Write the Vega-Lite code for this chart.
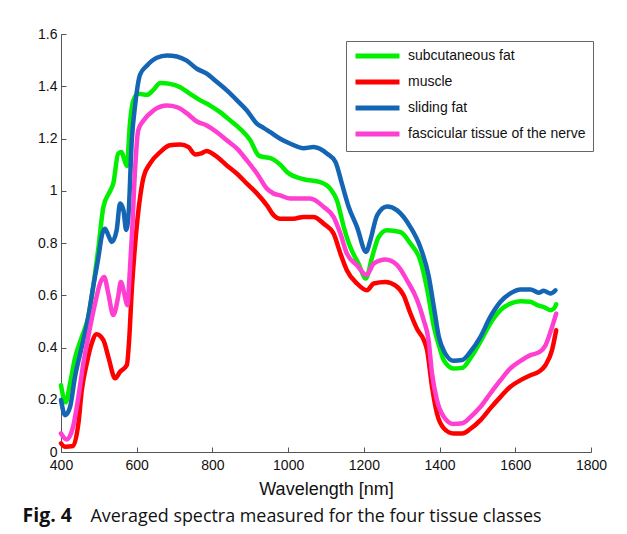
{
  "$schema": "https://vega.github.io/schema/vega-lite/v6.json",
  "width": 530,
  "height": 418,
  "autosize": {"type": "none"},
  "padding": {"left": 61, "top": 34, "right": 36, "bottom": 82},
  "background": "white",
  "config": {
    "view": {"stroke": null},
    "font": "Liberation Sans"
  },
  "resolve": {"scale": {"x": "independent"}, "axis": {"x": "independent"}},
  "layer": [
    {
      "data": {
        "values": [
          {"nm": 400, "v": 0.256, "tissue": "subcutaneous fat"},
          {"nm": 412, "v": 0.19, "tissue": "subcutaneous fat"},
          {"nm": 424, "v": 0.263, "tissue": "subcutaneous fat"},
          {"nm": 437, "v": 0.36, "tissue": "subcutaneous fat"},
          {"nm": 455, "v": 0.44, "tissue": "subcutaneous fat"},
          {"nm": 472, "v": 0.517, "tissue": "subcutaneous fat"},
          {"nm": 485, "v": 0.632, "tissue": "subcutaneous fat"},
          {"nm": 499, "v": 0.785, "tissue": "subcutaneous fat"},
          {"nm": 512, "v": 0.938, "tissue": "subcutaneous fat"},
          {"nm": 530, "v": 1.0, "tissue": "subcutaneous fat"},
          {"nm": 538, "v": 1.027, "tissue": "subcutaneous fat"},
          {"nm": 551, "v": 1.142, "tissue": "subcutaneous fat"},
          {"nm": 560, "v": 1.148, "tissue": "subcutaneous fat"},
          {"nm": 567, "v": 1.12, "tissue": "subcutaneous fat"},
          {"nm": 574, "v": 1.095, "tissue": "subcutaneous fat"},
          {"nm": 582, "v": 1.256, "tissue": "subcutaneous fat"},
          {"nm": 591, "v": 1.345, "tissue": "subcutaneous fat"},
          {"nm": 604, "v": 1.371, "tissue": "subcutaneous fat"},
          {"nm": 627, "v": 1.367, "tissue": "subcutaneous fat"},
          {"nm": 644, "v": 1.386, "tissue": "subcutaneous fat"},
          {"nm": 662, "v": 1.412, "tissue": "subcutaneous fat"},
          {"nm": 688, "v": 1.409, "tissue": "subcutaneous fat"},
          {"nm": 715, "v": 1.396, "tissue": "subcutaneous fat"},
          {"nm": 741, "v": 1.371, "tissue": "subcutaneous fat"},
          {"nm": 768, "v": 1.346, "tissue": "subcutaneous fat"},
          {"nm": 794, "v": 1.326, "tissue": "subcutaneous fat"},
          {"nm": 820, "v": 1.301, "tissue": "subcutaneous fat"},
          {"nm": 847, "v": 1.269, "tissue": "subcutaneous fat"},
          {"nm": 873, "v": 1.237, "tissue": "subcutaneous fat"},
          {"nm": 900, "v": 1.193, "tissue": "subcutaneous fat"},
          {"nm": 922, "v": 1.135, "tissue": "subcutaneous fat"},
          {"nm": 935, "v": 1.129, "tissue": "subcutaneous fat"},
          {"nm": 953, "v": 1.125, "tissue": "subcutaneous fat"},
          {"nm": 979, "v": 1.1, "tissue": "subcutaneous fat"},
          {"nm": 997, "v": 1.072, "tissue": "subcutaneous fat"},
          {"nm": 1041, "v": 1.044, "tissue": "subcutaneous fat"},
          {"nm": 1085, "v": 1.033, "tissue": "subcutaneous fat"},
          {"nm": 1111, "v": 1.008, "tissue": "subcutaneous fat"},
          {"nm": 1129, "v": 0.963, "tissue": "subcutaneous fat"},
          {"nm": 1147, "v": 0.861, "tissue": "subcutaneous fat"},
          {"nm": 1164, "v": 0.785, "tissue": "subcutaneous fat"},
          {"nm": 1186, "v": 0.721, "tissue": "subcutaneous fat"},
          {"nm": 1205, "v": 0.664, "tissue": "subcutaneous fat"},
          {"nm": 1222, "v": 0.747, "tissue": "subcutaneous fat"},
          {"nm": 1239, "v": 0.823, "tissue": "subcutaneous fat"},
          {"nm": 1261, "v": 0.849, "tissue": "subcutaneous fat"},
          {"nm": 1296, "v": 0.842, "tissue": "subcutaneous fat"},
          {"nm": 1323, "v": 0.798, "tissue": "subcutaneous fat"},
          {"nm": 1349, "v": 0.734, "tissue": "subcutaneous fat"},
          {"nm": 1367, "v": 0.625, "tissue": "subcutaneous fat"},
          {"nm": 1385, "v": 0.479, "tissue": "subcutaneous fat"},
          {"nm": 1400, "v": 0.4, "tissue": "subcutaneous fat"},
          {"nm": 1411, "v": 0.352, "tissue": "subcutaneous fat"},
          {"nm": 1437, "v": 0.32, "tissue": "subcutaneous fat"},
          {"nm": 1460, "v": 0.322, "tissue": "subcutaneous fat"},
          {"nm": 1481, "v": 0.358, "tissue": "subcutaneous fat"},
          {"nm": 1508, "v": 0.422, "tissue": "subcutaneous fat"},
          {"nm": 1534, "v": 0.492, "tissue": "subcutaneous fat"},
          {"nm": 1561, "v": 0.543, "tissue": "subcutaneous fat"},
          {"nm": 1587, "v": 0.568, "tissue": "subcutaneous fat"},
          {"nm": 1614, "v": 0.577, "tissue": "subcutaneous fat"},
          {"nm": 1640, "v": 0.575, "tissue": "subcutaneous fat"},
          {"nm": 1658, "v": 0.562, "tissue": "subcutaneous fat"},
          {"nm": 1675, "v": 0.555, "tissue": "subcutaneous fat"},
          {"nm": 1693, "v": 0.543, "tissue": "subcutaneous fat"},
          {"nm": 1702, "v": 0.549, "tissue": "subcutaneous fat"},
          {"nm": 1708, "v": 0.565, "tissue": "subcutaneous fat"},

          {"nm": 400, "v": 0.033, "tissue": "muscle"},
          {"nm": 411, "v": 0.02, "tissue": "muscle"},
          {"nm": 432, "v": 0.023, "tissue": "muscle"},
          {"nm": 446, "v": 0.11, "tissue": "muscle"},
          {"nm": 455, "v": 0.237, "tissue": "muscle"},
          {"nm": 468, "v": 0.339, "tissue": "muscle"},
          {"nm": 481, "v": 0.415, "tissue": "muscle"},
          {"nm": 494, "v": 0.451, "tissue": "muscle"},
          {"nm": 512, "v": 0.428, "tissue": "muscle"},
          {"nm": 525, "v": 0.364, "tissue": "muscle"},
          {"nm": 543, "v": 0.282, "tissue": "muscle"},
          {"nm": 556, "v": 0.307, "tissue": "muscle"},
          {"nm": 574, "v": 0.333, "tissue": "muscle"},
          {"nm": 580, "v": 0.428, "tissue": "muscle"},
          {"nm": 587, "v": 0.62, "tissue": "muscle"},
          {"nm": 596, "v": 0.798, "tissue": "muscle"},
          {"nm": 609, "v": 0.976, "tissue": "muscle"},
          {"nm": 618, "v": 1.052, "tissue": "muscle"},
          {"nm": 635, "v": 1.104, "tissue": "muscle"},
          {"nm": 662, "v": 1.148, "tissue": "muscle"},
          {"nm": 688, "v": 1.174, "tissue": "muscle"},
          {"nm": 715, "v": 1.177, "tissue": "muscle"},
          {"nm": 737, "v": 1.167, "tissue": "muscle"},
          {"nm": 754, "v": 1.139, "tissue": "muscle"},
          {"nm": 768, "v": 1.142, "tissue": "muscle"},
          {"nm": 785, "v": 1.152, "tissue": "muscle"},
          {"nm": 807, "v": 1.135, "tissue": "muscle"},
          {"nm": 838, "v": 1.097, "tissue": "muscle"},
          {"nm": 865, "v": 1.065, "tissue": "muscle"},
          {"nm": 891, "v": 1.027, "tissue": "muscle"},
          {"nm": 918, "v": 0.989, "tissue": "muscle"},
          {"nm": 944, "v": 0.944, "tissue": "muscle"},
          {"nm": 962, "v": 0.906, "tissue": "muscle"},
          {"nm": 979, "v": 0.893, "tissue": "muscle"},
          {"nm": 1014, "v": 0.893, "tissue": "muscle"},
          {"nm": 1041, "v": 0.9, "tissue": "muscle"},
          {"nm": 1067, "v": 0.9, "tissue": "muscle"},
          {"nm": 1094, "v": 0.874, "tissue": "muscle"},
          {"nm": 1120, "v": 0.836, "tissue": "muscle"},
          {"nm": 1138, "v": 0.76, "tissue": "muscle"},
          {"nm": 1155, "v": 0.696, "tissue": "muscle"},
          {"nm": 1182, "v": 0.645, "tissue": "muscle"},
          {"nm": 1208, "v": 0.619, "tissue": "muscle"},
          {"nm": 1226, "v": 0.645, "tissue": "muscle"},
          {"nm": 1257, "v": 0.651, "tissue": "muscle"},
          {"nm": 1283, "v": 0.638, "tissue": "muscle"},
          {"nm": 1305, "v": 0.6, "tissue": "muscle"},
          {"nm": 1323, "v": 0.53, "tissue": "muscle"},
          {"nm": 1341, "v": 0.47, "tissue": "muscle"},
          {"nm": 1358, "v": 0.43, "tissue": "muscle"},
          {"nm": 1367, "v": 0.39, "tissue": "muscle"},
          {"nm": 1380, "v": 0.25, "tissue": "muscle"},
          {"nm": 1393, "v": 0.148, "tissue": "muscle"},
          {"nm": 1411, "v": 0.091, "tissue": "muscle"},
          {"nm": 1437, "v": 0.071, "tissue": "muscle"},
          {"nm": 1460, "v": 0.071, "tissue": "muscle"},
          {"nm": 1481, "v": 0.088, "tissue": "muscle"},
          {"nm": 1508, "v": 0.122, "tissue": "muscle"},
          {"nm": 1534, "v": 0.167, "tissue": "muscle"},
          {"nm": 1561, "v": 0.211, "tissue": "muscle"},
          {"nm": 1587, "v": 0.25, "tissue": "muscle"},
          {"nm": 1614, "v": 0.275, "tissue": "muscle"},
          {"nm": 1640, "v": 0.294, "tissue": "muscle"},
          {"nm": 1662, "v": 0.307, "tissue": "muscle"},
          {"nm": 1680, "v": 0.333, "tissue": "muscle"},
          {"nm": 1697, "v": 0.39, "tissue": "muscle"},
          {"nm": 1708, "v": 0.466, "tissue": "muscle"},

          {"nm": 400, "v": 0.199, "tissue": "sliding fat"},
          {"nm": 411, "v": 0.141, "tissue": "sliding fat"},
          {"nm": 424, "v": 0.173, "tissue": "sliding fat"},
          {"nm": 437, "v": 0.288, "tissue": "sliding fat"},
          {"nm": 455, "v": 0.403, "tissue": "sliding fat"},
          {"nm": 472, "v": 0.517, "tissue": "sliding fat"},
          {"nm": 485, "v": 0.632, "tissue": "sliding fat"},
          {"nm": 499, "v": 0.747, "tissue": "sliding fat"},
          {"nm": 508, "v": 0.83, "tissue": "sliding fat"},
          {"nm": 516, "v": 0.855, "tissue": "sliding fat"},
          {"nm": 525, "v": 0.83, "tissue": "sliding fat"},
          {"nm": 534, "v": 0.804, "tissue": "sliding fat"},
          {"nm": 547, "v": 0.849, "tissue": "sliding fat"},
          {"nm": 556, "v": 0.951, "tissue": "sliding fat"},
          {"nm": 565, "v": 0.925, "tissue": "sliding fat"},
          {"nm": 572, "v": 0.85, "tissue": "sliding fat"},
          {"nm": 578, "v": 0.9, "tissue": "sliding fat"},
          {"nm": 587, "v": 1.193, "tissue": "sliding fat"},
          {"nm": 596, "v": 1.33, "tissue": "sliding fat"},
          {"nm": 609, "v": 1.445, "tissue": "sliding fat"},
          {"nm": 627, "v": 1.479, "tissue": "sliding fat"},
          {"nm": 653, "v": 1.509, "tissue": "sliding fat"},
          {"nm": 680, "v": 1.518, "tissue": "sliding fat"},
          {"nm": 706, "v": 1.514, "tissue": "sliding fat"},
          {"nm": 732, "v": 1.498, "tissue": "sliding fat"},
          {"nm": 759, "v": 1.467, "tissue": "sliding fat"},
          {"nm": 785, "v": 1.448, "tissue": "sliding fat"},
          {"nm": 812, "v": 1.416, "tissue": "sliding fat"},
          {"nm": 838, "v": 1.384, "tissue": "sliding fat"},
          {"nm": 865, "v": 1.346, "tissue": "sliding fat"},
          {"nm": 891, "v": 1.307, "tissue": "sliding fat"},
          {"nm": 918, "v": 1.256, "tissue": "sliding fat"},
          {"nm": 935, "v": 1.241, "tissue": "sliding fat"},
          {"nm": 953, "v": 1.224, "tissue": "sliding fat"},
          {"nm": 979, "v": 1.199, "tissue": "sliding fat"},
          {"nm": 1006, "v": 1.18, "tissue": "sliding fat"},
          {"nm": 1041, "v": 1.163, "tissue": "sliding fat"},
          {"nm": 1067, "v": 1.167, "tissue": "sliding fat"},
          {"nm": 1103, "v": 1.142, "tissue": "sliding fat"},
          {"nm": 1125, "v": 1.11, "tissue": "sliding fat"},
          {"nm": 1142, "v": 1.027, "tissue": "sliding fat"},
          {"nm": 1160, "v": 0.938, "tissue": "sliding fat"},
          {"nm": 1182, "v": 0.861, "tissue": "sliding fat"},
          {"nm": 1206, "v": 0.766, "tissue": "sliding fat"},
          {"nm": 1217, "v": 0.81, "tissue": "sliding fat"},
          {"nm": 1235, "v": 0.906, "tissue": "sliding fat"},
          {"nm": 1261, "v": 0.94, "tissue": "sliding fat"},
          {"nm": 1288, "v": 0.925, "tissue": "sliding fat"},
          {"nm": 1323, "v": 0.861, "tissue": "sliding fat"},
          {"nm": 1349, "v": 0.785, "tissue": "sliding fat"},
          {"nm": 1371, "v": 0.675, "tissue": "sliding fat"},
          {"nm": 1385, "v": 0.555, "tissue": "sliding fat"},
          {"nm": 1398, "v": 0.441, "tissue": "sliding fat"},
          {"nm": 1415, "v": 0.377, "tissue": "sliding fat"},
          {"nm": 1437, "v": 0.349, "tissue": "sliding fat"},
          {"nm": 1460, "v": 0.352, "tissue": "sliding fat"},
          {"nm": 1481, "v": 0.383, "tissue": "sliding fat"},
          {"nm": 1508, "v": 0.441, "tissue": "sliding fat"},
          {"nm": 1534, "v": 0.517, "tissue": "sliding fat"},
          {"nm": 1561, "v": 0.575, "tissue": "sliding fat"},
          {"nm": 1587, "v": 0.607, "tissue": "sliding fat"},
          {"nm": 1614, "v": 0.622, "tissue": "sliding fat"},
          {"nm": 1640, "v": 0.622, "tissue": "sliding fat"},
          {"nm": 1662, "v": 0.61, "tissue": "sliding fat"},
          {"nm": 1675, "v": 0.617, "tissue": "sliding fat"},
          {"nm": 1693, "v": 0.607, "tissue": "sliding fat"},
          {"nm": 1706, "v": 0.619, "tissue": "sliding fat"},

          {"nm": 400, "v": 0.071, "tissue": "fascicular tissue of the nerve"},
          {"nm": 415, "v": 0.048, "tissue": "fascicular tissue of the nerve"},
          {"nm": 432, "v": 0.097, "tissue": "fascicular tissue of the nerve"},
          {"nm": 446, "v": 0.211, "tissue": "fascicular tissue of the nerve"},
          {"nm": 459, "v": 0.339, "tissue": "fascicular tissue of the nerve"},
          {"nm": 472, "v": 0.441, "tissue": "fascicular tissue of the nerve"},
          {"nm": 490, "v": 0.568, "tissue": "fascicular tissue of the nerve"},
          {"nm": 503, "v": 0.645, "tissue": "fascicular tissue of the nerve"},
          {"nm": 514, "v": 0.67, "tissue": "fascicular tissue of the nerve"},
          {"nm": 525, "v": 0.607, "tissue": "fascicular tissue of the nerve"},
          {"nm": 538, "v": 0.524, "tissue": "fascicular tissue of the nerve"},
          {"nm": 551, "v": 0.594, "tissue": "fascicular tissue of the nerve"},
          {"nm": 558, "v": 0.651, "tissue": "fascicular tissue of the nerve"},
          {"nm": 569, "v": 0.594, "tissue": "fascicular tissue of the nerve"},
          {"nm": 575, "v": 0.562, "tissue": "fascicular tissue of the nerve"},
          {"nm": 582, "v": 0.696, "tissue": "fascicular tissue of the nerve"},
          {"nm": 588, "v": 0.849, "tissue": "fascicular tissue of the nerve"},
          {"nm": 596, "v": 1.09, "tissue": "fascicular tissue of the nerve"},
          {"nm": 604, "v": 1.231, "tissue": "fascicular tissue of the nerve"},
          {"nm": 618, "v": 1.269, "tissue": "fascicular tissue of the nerve"},
          {"nm": 644, "v": 1.307, "tissue": "fascicular tissue of the nerve"},
          {"nm": 680, "v": 1.326, "tissue": "fascicular tissue of the nerve"},
          {"nm": 706, "v": 1.32, "tissue": "fascicular tissue of the nerve"},
          {"nm": 732, "v": 1.297, "tissue": "fascicular tissue of the nerve"},
          {"nm": 759, "v": 1.265, "tissue": "fascicular tissue of the nerve"},
          {"nm": 785, "v": 1.25, "tissue": "fascicular tissue of the nerve"},
          {"nm": 812, "v": 1.224, "tissue": "fascicular tissue of the nerve"},
          {"nm": 838, "v": 1.193, "tissue": "fascicular tissue of the nerve"},
          {"nm": 865, "v": 1.161, "tissue": "fascicular tissue of the nerve"},
          {"nm": 891, "v": 1.116, "tissue": "fascicular tissue of the nerve"},
          {"nm": 918, "v": 1.065, "tissue": "fascicular tissue of the nerve"},
          {"nm": 944, "v": 1.008, "tissue": "fascicular tissue of the nerve"},
          {"nm": 962, "v": 0.989, "tissue": "fascicular tissue of the nerve"},
          {"nm": 979, "v": 0.982, "tissue": "fascicular tissue of the nerve"},
          {"nm": 1006, "v": 0.97, "tissue": "fascicular tissue of the nerve"},
          {"nm": 1058, "v": 0.97, "tissue": "fascicular tissue of the nerve"},
          {"nm": 1094, "v": 0.938, "tissue": "fascicular tissue of the nerve"},
          {"nm": 1120, "v": 0.9, "tissue": "fascicular tissue of the nerve"},
          {"nm": 1138, "v": 0.836, "tissue": "fascicular tissue of the nerve"},
          {"nm": 1155, "v": 0.76, "tissue": "fascicular tissue of the nerve"},
          {"nm": 1182, "v": 0.715, "tissue": "fascicular tissue of the nerve"},
          {"nm": 1207, "v": 0.677, "tissue": "fascicular tissue of the nerve"},
          {"nm": 1226, "v": 0.721, "tissue": "fascicular tissue of the nerve"},
          {"nm": 1257, "v": 0.737, "tissue": "fascicular tissue of the nerve"},
          {"nm": 1288, "v": 0.715, "tissue": "fascicular tissue of the nerve"},
          {"nm": 1314, "v": 0.657, "tissue": "fascicular tissue of the nerve"},
          {"nm": 1341, "v": 0.581, "tissue": "fascicular tissue of the nerve"},
          {"nm": 1358, "v": 0.505, "tissue": "fascicular tissue of the nerve"},
          {"nm": 1371, "v": 0.428, "tissue": "fascicular tissue of the nerve"},
          {"nm": 1380, "v": 0.301, "tissue": "fascicular tissue of the nerve"},
          {"nm": 1393, "v": 0.199, "tissue": "fascicular tissue of the nerve"},
          {"nm": 1411, "v": 0.135, "tissue": "fascicular tissue of the nerve"},
          {"nm": 1437, "v": 0.107, "tissue": "fascicular tissue of the nerve"},
          {"nm": 1460, "v": 0.11, "tissue": "fascicular tissue of the nerve"},
          {"nm": 1481, "v": 0.133, "tissue": "fascicular tissue of the nerve"},
          {"nm": 1508, "v": 0.173, "tissue": "fascicular tissue of the nerve"},
          {"nm": 1534, "v": 0.224, "tissue": "fascicular tissue of the nerve"},
          {"nm": 1561, "v": 0.275, "tissue": "fascicular tissue of the nerve"},
          {"nm": 1587, "v": 0.32, "tissue": "fascicular tissue of the nerve"},
          {"nm": 1614, "v": 0.349, "tissue": "fascicular tissue of the nerve"},
          {"nm": 1640, "v": 0.371, "tissue": "fascicular tissue of the nerve"},
          {"nm": 1662, "v": 0.381, "tissue": "fascicular tissue of the nerve"},
          {"nm": 1680, "v": 0.409, "tissue": "fascicular tissue of the nerve"},
          {"nm": 1693, "v": 0.46, "tissue": "fascicular tissue of the nerve"},
          {"nm": 1708, "v": 0.53, "tissue": "fascicular tissue of the nerve"}
        ]
      },
      "mark": {"type": "line", "strokeWidth": 4.5, "interpolate": "monotone", "strokeCap": "round", "strokeJoin": "round"},
      "encoding": {
        "x": {
          "field": "nm",
          "type": "quantitative",
          "scale": {"domain": [400, 1800], "nice": false},
          "axis": {
            "title": "Wavelength [nm]",
            "values": [400, 600, 800, 1000, 1200, 1400, 1600, 1800],
            "format": "d",
            "grid": false,
            "labelFlush": false,
            "domainColor": "#555",
            "tickColor": "#555",
            "tickSize": -5,
            "labelPadding": 11,
            "labelFontSize": 14,
            "labelColor": "#111",
            "labelFont": "Liberation Sans",
            "titleFont": "Liberation Sans",
            "titleFontSize": 18,
            "titleFontWeight": "normal",
            "titleColor": "#111",
            "titlePadding": 8
          }
        },
        "y": {
          "field": "v",
          "type": "quantitative",
          "scale": {"domain": [0, 1.6], "nice": false},
          "axis": {
            "title": null,
            "values": [0, 0.2, 0.4, 0.6, 0.8, 1, 1.2, 1.4, 1.6],
            "format": "~g",
            "grid": false,
            "labelFlush": false,
            "domainColor": "#555",
            "tickColor": "#555",
            "tickSize": -5,
            "labelPadding": 9,
            "labelFontSize": 14,
            "labelColor": "#111",
            "labelFont": "Liberation Sans"
          }
        },
        "color": {
          "field": "tissue",
          "type": "nominal",
          "sort": ["subcutaneous fat", "muscle", "sliding fat", "fascicular tissue of the nerve"],
          "scale": {
            "domain": ["subcutaneous fat", "muscle", "sliding fat", "fascicular tissue of the nerve"],
            "range": ["#00f000", "#ff0000", "#1565b5", "#ff3fd2"]
          },
          "legend": {
            "title": null,
            "orient": "none",
            "legendX": 285,
            "legendY": 7,
            "symbolType": "M-1,0H7",
            "symbolSize": 121,
            "symbolStrokeWidth": 5,
            "labelFont": "Liberation Sans",
            "labelFontSize": 14,
            "labelColor": "#111",
            "labelOffset": 39,
            "rowPadding": 6,
            "padding": 7,
            "strokeColor": "#666",
            "fillColor": "white",
            "labelLimit": 300
          }
        }
      }
    },
    {
      "data": {"values": [{"nm": 400}]},
      "mark": {"type": "rule", "opacity": 0},
      "encoding": {
        "x": {
          "field": "nm",
          "type": "quantitative",
          "scale": {"domain": [400, 1800], "nice": false},
          "axis": {
            "orient": "bottom",
            "domain": false,
            "ticks": false,
            "labels": false,
            "grid": false,
            "title": "Averaged spectra measured for the four tissue classes",
            "titleFont": "Open Sans",
            "titleFontSize": 17.9,
            "titleFontWeight": "normal",
            "titleColor": "#111",
            "titleAnchor": "start",
            "titleAlign": "left",
            "titleBaseline": "alphabetic",
            "titleX": 29,
            "titleY": 69
          }
        }
      }
    },
    {
      "data": {"values": [{"nm": 400}]},
      "mark": {"type": "rule", "opacity": 0},
      "encoding": {
        "x": {
          "field": "nm",
          "type": "quantitative",
          "scale": {"domain": [400, 1800], "nice": false},
          "axis": {
            "orient": "bottom",
            "domain": false,
            "ticks": false,
            "labels": false,
            "grid": false,
            "title": "Fig. 4",
            "titleFont": "Open Sans",
            "titleFontSize": 19.5,
            "titleFontWeight": "bold",
            "titleColor": "#111",
            "titleAnchor": "start",
            "titleAlign": "left",
            "titleBaseline": "alphabetic",
            "titleX": -39,
            "titleY": 69
          }
        }
      }
    }
  ]
}
